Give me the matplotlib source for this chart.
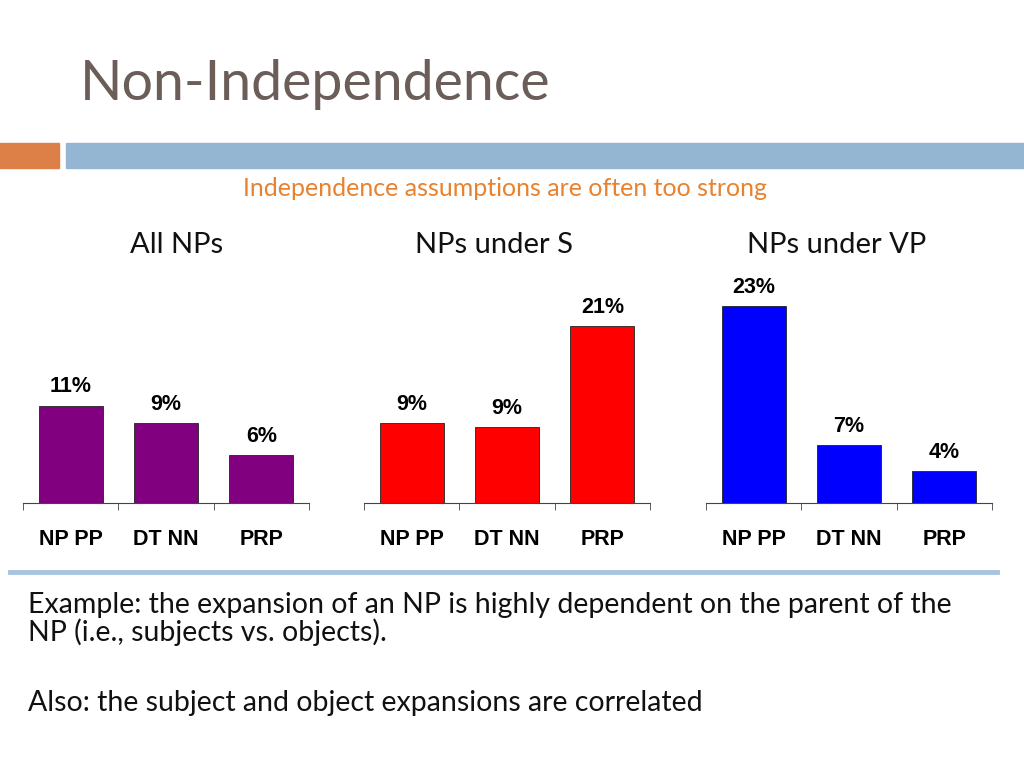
import matplotlib.pyplot as plt
import matplotlib.patches as patches

# values (percent of NPs)
categories = ['NP PP', 'DT NN', 'PRP']
panel_titles = ['All NPs', 'NPs under S', 'NPs under VP']
all_nps = [11.3, 9.3, 5.6]
nps_under_s = [9.3, 8.8, 20.6]
nps_under_vp = [22.9, 6.7, 3.7]
bar_labels = [['11%', '9%', '6%'], ['9%', '9%', '21%'], ['23%', '7%', '4%']]
bar_colors = ['#800080', '#FF0000', '#0000FF']

W, H = 1024, 768


def fx(px):
    return px / W


def fy(py):
    return 1 - py / H


fig = plt.figure(figsize=(10.24, 7.68), dpi=100)

# slide decoration
fig.text(fx(80), fy(85), 'Non-Independence', fontsize=40, family='Lato',
         color='#6B5E58', va='center', ha='left')
fig.patches.append(patches.Rectangle((0, fy(168)), fx(59), fy(143) - fy(168),
                                     transform=fig.transFigure, color='#DD8047'))
fig.patches.append(patches.Rectangle((fx(66), fy(168)), 1 - fx(66), fy(143) - fy(168),
                                     transform=fig.transFigure, color='#94B6D2'))
fig.text(fx(505), fy(188), 'Independence assumptions are often too strong',
         fontsize=18, family='Lato', color='#E8822E', ha='center', va='center')

lefts = [23, 364, 706]
title_x = [177, 494, 837]
series = [all_nps, nps_under_s, nps_under_vp]

for i in range(3):
    ax = fig.add_axes([fx(lefts[i]), fy(503), fx(286), fy(288) - fy(503)])
    vals = series[i]
    bars = ax.bar(range(3), vals, width=0.67, color=bar_colors[i],
                  edgecolor='#222222', linewidth=0.6)
    for b, lab in zip(bars, bar_labels[i]):
        ax.annotate(lab, (b.get_x() + b.get_width() / 2, b.get_height()),
                    xytext=(0, 6), textcoords='offset points', ha='center',
                    va='bottom', fontsize=15.5, fontweight='bold', family='Liberation Sans')
    ax.set_xlim(-0.5, 2.5)
    ax.set_ylim(0, 25)
    for s in ['top', 'left', 'right']:
        ax.spines[s].set_visible(False)
    ax.spines['bottom'].set_color('#444444')
    ax.set_yticks([])
    ax.set_xticks(range(3))
    ax.set_xticklabels(categories, fontsize=15.5, fontweight='bold', family='Liberation Sans')
    ax.tick_params(axis='x', which='major', length=0, pad=19)
    ax.set_xticks([-0.5, 0.5, 1.5, 2.5], minor=True)
    ax.tick_params(axis='x', which='minor', length=5, color='#444444', direction='out')
    ax.patch.set_alpha(0)
    fig.text(fx(title_x[i]), fy(245), panel_titles[i], fontsize=21, family='Lato',
             ha='center', va='center', color='#111111')

# separator line
fig.add_artist(plt.Line2D([fx(10), fx(997)], [fy(572), fy(572)], transform=fig.transFigure,
                          color='#A7C5DF', linewidth=3.5))

fig.text(fx(28), fy(605), 'Example: the expansion of an NP is highly dependent on the parent of the',
         fontsize=20.5, family='Lato', va='center', ha='left', color='#111111')
fig.text(fx(28), fy(632), 'NP (i.e., subjects vs. objects).',
         fontsize=20.5, family='Lato', va='center', ha='left', color='#111111')
fig.text(fx(28), fy(703), 'Also: the subject and object expansions are correlated',
         fontsize=20.5, family='Lato', va='center', ha='left', color='#111111')

fig.savefig('out.png', dpi=100)
